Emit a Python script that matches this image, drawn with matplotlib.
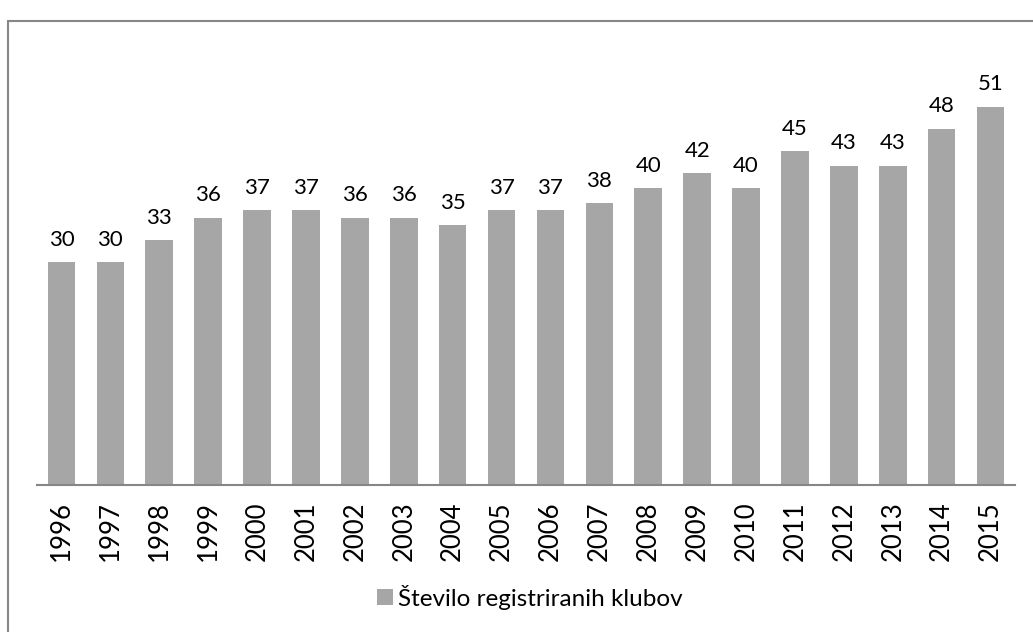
import matplotlib
matplotlib.use("Agg")
import matplotlib.pyplot as plt
from matplotlib.patches import Rectangle
import numpy as np

plt.rcParams['font.family'] = ['Lato', 'DejaVu Sans']

years = ["1996", "1997", "1998", "1999", "2000", "2001", "2002", "2003", "2004", "2005",
         "2006", "2007", "2008", "2009", "2010", "2011", "2012", "2013", "2014", "2015"]
clubs = [30, 30, 33, 36, 37, 37, 36, 36, 35, 37, 37, 38, 40, 42, 40, 45, 43, 43, 48, 51]
series_label = "Število registriranih klubov"

bar_color = "#a6a6a6"

fig = plt.figure(figsize=(10.33, 6.32), dpi=100)
# outer chart border (right and bottom edges fall outside the image)
fig.patches.append(Rectangle((7.5 / 1033, -0.05), 1.2, (622 - 10.5) / 632 + 0.05,
                             transform=fig.transFigure, fill=False,
                             edgecolor="#878787", linewidth=1.5))

ax = fig.add_axes([37 / 1033, (632 - 484.6) / 632, 978 / 1033, (484.6 - 40) / 632])
x = np.arange(len(years))
bars = ax.bar(x, clubs, width=0.565, color=bar_color, label=series_label)

for xi, v in zip(x, clubs):
    ax.annotate(str(v), (xi, v), xytext=(0, 9), textcoords="offset points",
                ha="center", va="bottom", fontsize=16, color="#000000")

ax.set_xlim(-0.5, len(years) - 0.5)
ax.set_ylim(0, 60)
ax.set_xticks(x)
ax.set_xticklabels(years, rotation=90, fontsize=18.5)
ax.tick_params(axis="x", length=0, pad=12)
ax.set_yticks([])
for side in ["top", "right", "left"]:
    ax.spines[side].set_visible(False)
ax.spines["bottom"].set_color("#868686")
ax.spines["bottom"].set_linewidth(1.5)

fig.legend(handles=[bars], labels=[series_label], loc="center",
           bbox_to_anchor=(530 / 1033, (632 - 597) / 632), frameon=False,
           fontsize=17.5, handlelength=0.65, handleheight=0.65, handletextpad=0.2)

fig.savefig("out.png", dpi=100)
